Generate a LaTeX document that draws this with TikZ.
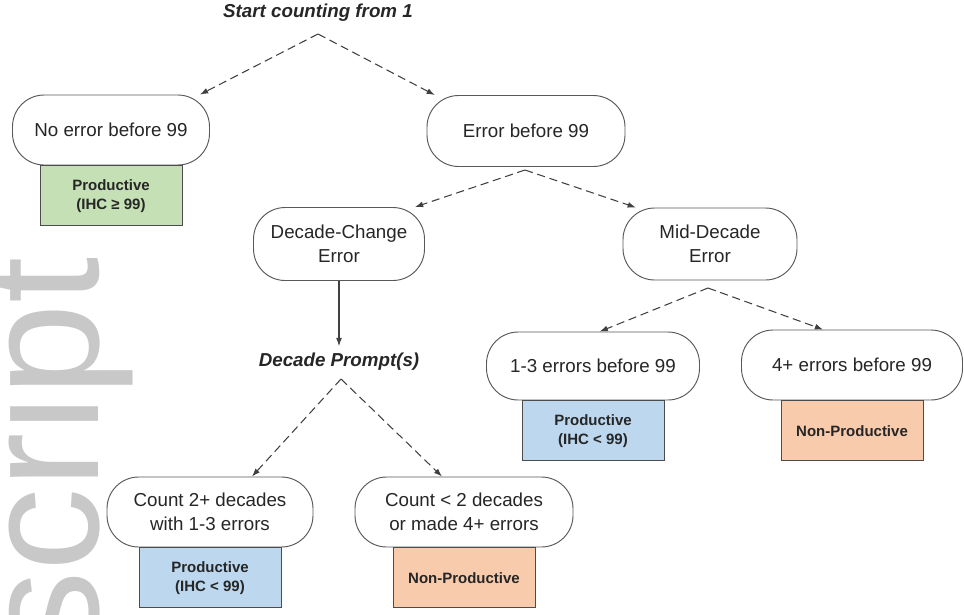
\documentclass[tikz,border=0pt]{standalone}
\usepackage{fontspec}
\setmainfont{Liberation Sans}
\usetikzlibrary{positioning,arrows.meta}
\definecolor{mygreen}{RGB}{197,224,180}
\definecolor{myblue}{RGB}{189,215,238}
\definecolor{myorange}{RGB}{248,203,173}
\definecolor{myline}{RGB}{64,64,64}
\definecolor{mymark}{RGB}{200,200,200}

\begin{document}
\begin{tikzpicture}[x=0.03cm, y=-0.03cm, font=\fontsize{16}{20.5}\selectfont,
  stage/.style={draw=black!65, line width=0.8pt, fill=white, rounded corners=0.95cm, align=center, inner sep=2pt, text=black!85},
  result/.style={draw=black!70, line width=0.8pt, minimum width=4.26cm, minimum height=1.8cm, align=center, inner sep=2pt, text=black!85, font=\fontsize{12.8}{16}\selectfont\bfseries},
  heading/.style={inner sep=3pt, text=black!85, font=\fontsize{16}{20.5}\selectfont\bfseries\itshape},
  flow/.style={draw=myline, line width=0.9pt, dash pattern=on 7pt off 4pt, -{Latex[length=7pt,width=5pt]}}]

\useasboundingbox (0,0) rectangle (964,614);

% watermark
\node[rotate=90, anchor=base east, inner sep=0pt, text=mymark, font=\fontsize{142}{142}\selectfont] (mark) at (98,257) {script};

% start
\node[heading] (start) at (318,13) {Start counting from 1};
\coordinate (s0) at (318,34);

% first split
\node[stage, minimum width=5.91cm, minimum height=2.1cm] (noerr) at (111,130) {No error before 99};
\node[result, fill=mygreen, below=0pt of noerr] (noerrout) {Productive\\(IHC ≥ 99)};
\node[stage, minimum width=5.94cm, minimum height=2.13cm] (err) at (526,131) {Error before 99};
\coordinate (e0) at (525,170);

% kind of error
\node[stage, minimum width=5.13cm, minimum height=2.19cm] (dcerr) at (339,244) {Decade-Change\\Error};
\node[stage, minimum width=5.22cm, minimum height=2.16cm] (mderr) at (710,244) {Mid-Decade\\Error};
\coordinate (m0) at (708,288);

% mid-decade outcomes
\node[stage, minimum width=6.39cm, minimum height=2.04cm] (few) at (593,366) {1-3 errors before 99};
\node[result, fill=myblue, below=0pt of few] (fewout) {Productive\\(IHC < 99)};
\node[stage, minimum width=6.63cm, minimum height=2.1cm] (many) at (852,365) {4+ errors before 99};
\node[result, fill=myorange, below=0pt of many] (manyout) {Non-Productive};

% prompts
\node[heading] (prompt) at (339,362) {Decade Prompt(s)};
\coordinate (p0) at (341,379);

% decade-change outcomes
\node[stage, minimum width=6.18cm, minimum height=2.1cm] (twoplus) at (210,512) {Count 2+ decades\\with 1-3 errors};
\node[result, fill=myblue, below=0pt of twoplus] (twoplusout) {Productive\\(IHC < 99)};
\node[stage, minimum width=6.54cm, minimum height=2.1cm] (lesstwo) at (464,512) {Count < 2 decades\\or made 4+ errors};
\node[result, fill=myorange, below=0pt of lesstwo] (lesstwoout) {Non-Productive};

% connectors
\draw[flow] (s0) -- ([xshift=-0.3cm]noerr.north east);
\draw[flow] (s0) -- ([xshift=0.25cm]err.north west);
\draw[flow] (e0) -- ([xshift=-0.3cm]dcerr.north east);
\draw[flow] (e0) -- ([xshift=0.4cm]mderr.north west);
\draw[draw=myline, line width=0.9pt, -{Latex[length=7pt,width=5pt]}] (dcerr.south) -- ([yshift=0.1cm]prompt.north);
\draw[flow] (m0) -- ([xshift=0.2cm]few.north);
\draw[flow] (m0) -- ([xshift=-0.87cm]many.north);
\draw[flow] (p0) -- ([xshift=1.26cm]twoplus.north);
\draw[flow] (p0) -- ([xshift=-0.66cm]lesstwo.north);

\end{tikzpicture}
\end{document}
